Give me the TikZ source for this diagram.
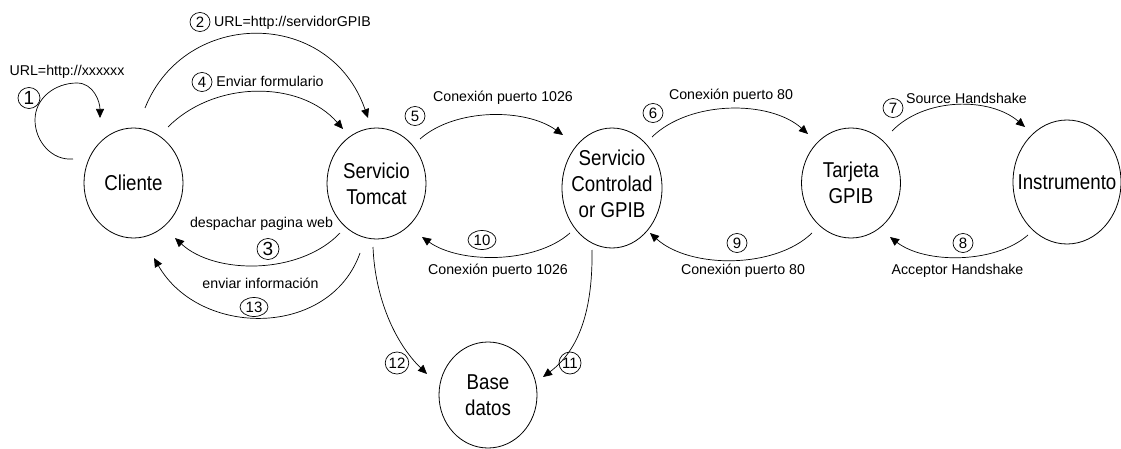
\documentclass[tikz,border=0pt]{standalone}
\usepackage{fontspec}
\setmainfont{Liberation Sans}
\newfontfamily\statefont[FakeStretch=0.87]{Liberation Sans}
\usetikzlibrary{arrows.meta,shapes.geometric,calc}

\begin{document}
\begin{tikzpicture}[x=1pt,y=1pt,
  state/.style={ellipse,draw,line width=0.8pt,inner sep=0pt},
  stxt/.style={align=center,inner sep=0pt,font=\statefont\fontsize{21.5}{26}\selectfont},
  num/.style={ellipse,draw,line width=0.7pt,inner sep=0pt,minimum width=20pt,minimum height=19pt,font=\fontsize{15}{15}\selectfont},
  numw/.style={num,minimum width=28pt},
  numbig/.style={num,minimum width=22pt,minimum height=21pt,font=\fontsize{19}{19}\selectfont},
  lbl/.style={inner sep=0pt,font=\fontsize{14.2}{16}\selectfont},
  flow/.style={line width=0.7pt,-{Triangle[length=9pt,width=8pt]}}
]
\useasboundingbox (0,0) rectangle (1121,448);

% processes
\node[state,minimum width=99pt,minimum height=110pt,label={[stxt]center:Cliente}] (cli) at (133.5,265) {};
\node[state,minimum width=99pt,minimum height=111pt,label={[stxt]center:Servicio\\Tomcat}] (tom) at (376.5,264.5) {};
\node[state,minimum width=100pt,minimum height=120pt,label={[stxt,yshift=4pt]center:Servicio\\Controlad\\or GPIB}] (ctl) at (612,260) {};
\node[state,minimum width=99pt,minimum height=110pt,label={[stxt]center:Tarjeta\\GPIB}] (tar) at (851,265) {};
\node[state,minimum width=108pt,minimum height=124pt,label={[stxt]center:Instrumento}] (ins) at (1067,266) {};
\node[state,minimum width=98pt,minimum height=106pt,label={[stxt]center:Base\\datos}] (bd) at (488,53) {};

% 1: self loop on the client
\draw[flow] ($(cli)+(-60.5,24)$) to[out=185,in=270] (35,328) to[out=90,in=180] (77,365) to[out=0,in=90] ($(cli)+(-33.5,65)$);
\node[numbig] (n1) at (29,350) {1};
\node[lbl] (t1) at (67,376) {URL=http://xxxxxx};

% 2 and 4: client to Tomcat
\draw[flow] ($(cli)+(11.5,75)$) .. controls (185,440) and (330,440) .. ($(tom)+(-8.5,65.5)$);
\node[num] (n2) at (200,426) {2};
\node[lbl] (t2) at (292.5,425) {URL=http://servidorGPIB};
\draw[flow] ($(cli)+(34.5,56)$) .. controls (215,368) and (300,368) .. ($(tom)+(-33.5,54.5)$);
\node[num] (n4) at (202,366) {4};
\node[lbl] (t4) at (270,367) {Enviar formulario};

% 3 and 13: Tomcat back to client
\draw[flow] ($(tom)+(-36.5,-49.5)$) .. controls (300,173) and (215,173) .. ($(cli)+(41.5,-55)$);
\node[numbig] (n3) at (268,199) {3};
\node[lbl] (t3) at (261.5,224) {despachar pagina web};
\draw[flow] ($(tom)+(-16.5,-69.5)$) .. controls (330,110) and (200,110) .. ($(cli)+(20.5,-75)$);
\node[numw] (n13) at (254,141) {13};
\node[lbl] (t13) at (260.5,165) {enviar información};

% 5 and 10: Tomcat <-> controller service
\draw[flow] ($(tom)+(43.5,44.5)$) .. controls (455,340) and (525,340) .. ($(ctl)+(-49,53)$);
\node[num] (n5) at (415,332) {5};
\node[lbl] (t5) at (503,350) {Conexión puerto 1026};
\draw[flow] ($(ctl)+(-42,-45)$) .. controls (535,184) and (460,184) .. ($(tom)+(45.5,-53.5)$);
\node[numw] (n10) at (482,208) {10};
\node[lbl] (t10) at (498,177) {Conexión puerto 1026};

% 6 and 9: controller service <-> GPIB card
\draw[flow] ($(ctl)+(40,51)$) .. controls (690,348) and (770,348) .. ($(tar)+(-43,49)$);
\node[num] (n6) at (653,335) {6};
\node[lbl] (t6) at (731,352) {Conexión puerto 80};
\draw[flow] ($(tar)+(-39,-50)$) .. controls (775,179) and (690,179) .. ($(ctl)+(38,-45)$);
\node[num] (n9) at (737,205) {9};
\node[lbl] (t9) at (743,177) {Conexión puerto 80};

% 7 and 8: GPIB card <-> instrument
\draw[flow] ($(tar)+(41,52)$) .. controls (925,351) and (990,351) .. ($(ins)+(-42,55)$);
\node[num] (n7) at (893,340) {7};
\node[lbl] (t7) at (966.5,350) {Source Handshake};
\draw[flow] ($(ins)+(-39,-53)$) .. controls (995,184) and (925,184) .. ($(tar)+(39,-54)$);
\node[num] (n8) at (963,205) {8};
\node[lbl] (t8) at (957.5,177) {Acceptor Handshake};

% 12 and 11: access to the database
\draw[flow] ($(tom)+(-3.5,-63.5)$) .. controls (375,150) and (395,105) .. ($(bd)+(-61,21)$);
\node[numw,minimum width=22pt,minimum height=22pt] (n12) at (397,85) {12};
\draw[flow] ($(ctl)+(-20,-62)$) .. controls (593,130) and (575,95) .. ($(bd)+(55,18)$);
\node[numw,minimum width=22pt,minimum height=22pt] (n11) at (570,85) {11};
\end{tikzpicture}
\end{document}
